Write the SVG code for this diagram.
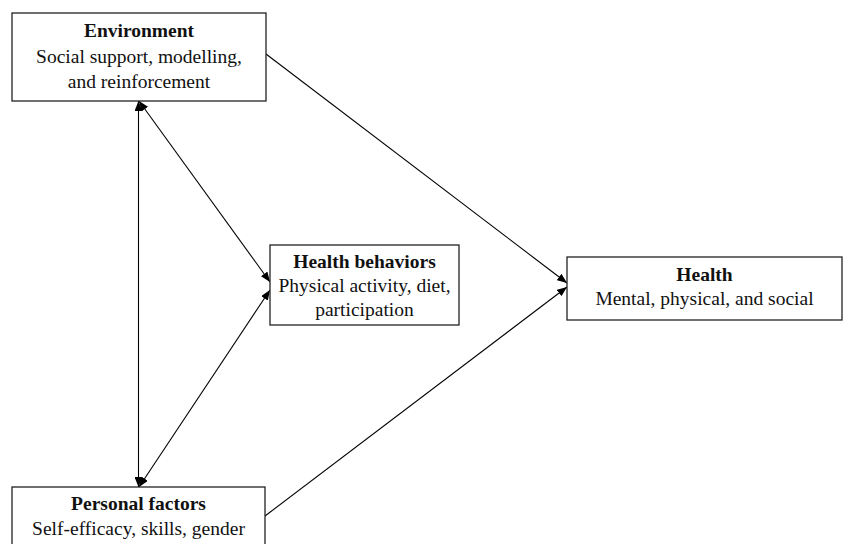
<svg xmlns="http://www.w3.org/2000/svg" width="843" height="544" viewBox="0 0 843 544">
<defs>
<marker id="ah" viewBox="0 0 10 8" refX="10" refY="4" markerWidth="10" markerHeight="8" markerUnits="userSpaceOnUse" orient="auto-start-reverse">
<path d="M0,0 L10,4 L0,8 z" fill="#000"/>
</marker>
<style>
.box{fill:#fff;stroke:#222;stroke-width:1.3}
.t{font-family:"Liberation Serif","Times New Roman",serif;font-size:19.5px;fill:#111;text-anchor:middle}
.b{font-weight:bold}
.c{stroke:#000;stroke-width:1.1;fill:none}
</style>
</defs>
<rect width="843" height="544" fill="#fff"/>
<g id="connectors">
<line class="c" x1="266" y1="54" x2="567" y2="283" marker-end="url(#ah)"/>
<line class="c" x1="265" y1="516" x2="567" y2="287" marker-end="url(#ah)"/>
<line class="c" x1="138.5" y1="101" x2="138.5" y2="487" marker-start="url(#ah)" marker-end="url(#ah)"/>
<line class="c" x1="139" y1="101" x2="270" y2="282" marker-start="url(#ah)" marker-end="url(#ah)"/>
<line class="c" x1="270" y1="290" x2="139" y2="487" marker-start="url(#ah)" marker-end="url(#ah)"/>
</g>
<g id="environment">
<rect class="box" x="12" y="13" width="254" height="88"/>
<text class="t b" x="139" y="37">Environment</text>
<text class="t" x="139" y="63">Social support, modelling,</text>
<text class="t" x="139" y="88">and reinforcement</text>
</g>
<g id="health-behaviors">
<rect class="box" x="270" y="245" width="189" height="80"/>
<text class="t b" x="364.5" y="268">Health behaviors</text>
<text class="t" x="364.5" y="292">Physical activity, diet,</text>
<text class="t" x="364.5" y="316">participation</text>
</g>
<g id="health">
<rect class="box" x="567" y="257" width="275" height="63"/>
<text class="t b" x="704.5" y="281">Health</text>
<text class="t" x="704.5" y="305">Mental, physical, and social</text>
</g>
<g id="personal-factors">
<rect class="box" x="12" y="487" width="253" height="70"/>
<text class="t b" x="138.5" y="510">Personal factors</text>
<text class="t" x="138.5" y="535">Self-efficacy, skills, gender</text>
</g>
</svg>
